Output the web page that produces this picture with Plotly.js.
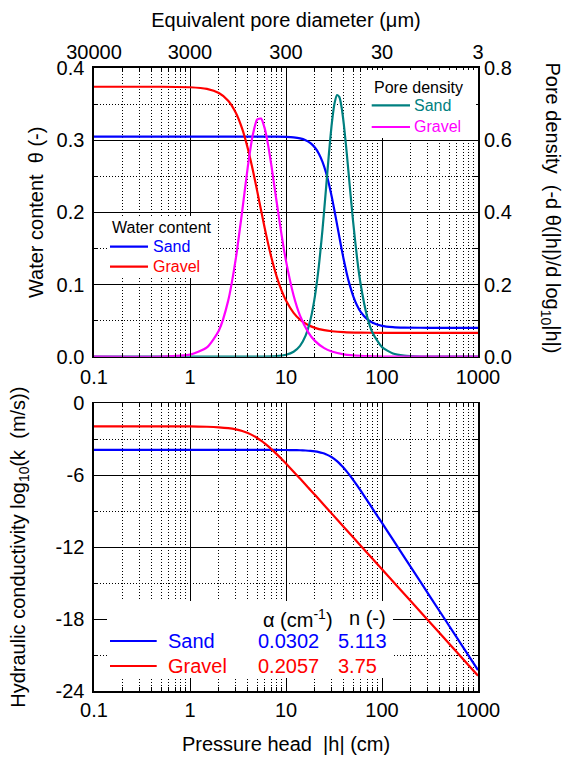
<!DOCTYPE html>
<html>
<head>
<meta charset="utf-8">
<script src="https://cdn.plot.ly/plotly-3.0.1.min.js"></script>
<style>html,body{margin:0;padding:0;background:#fff}#chart{width:563px;height:760px}</style>
</head>
<body>
<div id="chart"></div>
<script>
// ---- Data ----
const hSand = [0.1, 1, 5, 8, 10, 12, 14, 16, 18, 20, 22, 24, 26, 28, 30, 32, 34, 36, 38, 40, 43, 46, 50, 55, 60, 70, 80, 100, 130, 170, 250, 400, 1000];
const thetaSand = [0.3050, 0.3050, 0.3050, 0.3049, 0.3045, 0.3038, 0.3024, 0.2999, 0.2959, 0.2899, 0.2813, 0.2700, 0.2559, 0.2394, 0.2212, 0.2023, 0.1834, 0.1655, 0.1489, 0.1340, 0.1150, 0.0998, 0.0844, 0.0710, 0.0621, 0.0520, 0.0470, 0.0428, 0.0410, 0.0403, 0.0401, 0.0400, 0.0400];
const poreSand = [0, 0, 0.0002, 0.0018, 0.0055, 0.0138, 0.0301, 0.0583, 0.1028, 0.1670, 0.2514, 0.3521, 0.4600, 0.5625, 0.6461, 0.7015, 0.7251, 0.7193, 0.6899, 0.6446, 0.5624, 0.4772, 0.3746, 0.2734, 0.2000, 0.1111, 0.0654, 0.0265, 0.0090, 0.0030, 0.0006, 0.0000, 0.0000];
const logKSand = [-3.89, -3.89, -3.8904, -3.8926, -3.8967, -3.9044, -3.9174, -3.9381, -3.9688, -4.0124, -4.0716, -4.1489, -4.2459, -4.3636, -4.5008, -4.6562, -4.8268, -5.0095, -5.2007, -5.3971, -5.6967, -5.9954, -6.3877, -6.8545, -7.2919, -8.0911, -8.8100, -9.9782, -11.3753, -12.8054, -14.8624, -17.3695, -22.2572];

const hGravel = [0.1, 0.5, 1, 1.5, 2, 2.5, 3, 3.5, 4, 4.5, 5, 5.5, 6, 6.5, 7, 8, 9, 10, 12, 14, 17, 20, 25, 30, 40, 60, 100, 200, 400, 1000];
const thetaGravel = [0.3740, 0.3740, 0.3733, 0.3710, 0.3653, 0.3547, 0.3381, 0.3157, 0.2886, 0.2594, 0.2301, 0.2028, 0.1783, 0.1570, 0.1389, 0.1110, 0.0915, 0.0778, 0.0607, 0.0513, 0.0438, 0.0400, 0.0368, 0.0353, 0.0340, 0.0333, 0.0331, 0.0330, 0.0330, 0.0330];
const poreGravel = [0, 0.0004, 0.0057, 0.0257, 0.0727, 0.1554, 0.2717, 0.4041, 0.5260, 0.6135, 0.6570, 0.6598, 0.6326, 0.5877, 0.5346, 0.4280, 0.3370, 0.2656, 0.1698, 0.1140, 0.0680, 0.0438, 0.0238, 0.0145, 0.0066, 0.0022, 0.0005, 0.0001, 0, 0];
const logKGravel = [-1.92, -1.9217, -1.9317, -1.9565, -2.0025, -2.0754, -2.1794, -2.3162, -2.4838, -2.6774, -2.8903, -3.1144, -3.3435, -3.5758, -3.8034, -4.2409, -4.6498, -5.0288, -5.7012, -6.2832, -7.0316, -7.6361, -8.5020, -9.2040, -10.3131, -11.8756, -13.8443, -16.5161, -19.1877, -22.7194];

const seriesNames = ['Sand', 'Gravel'];
const paramAlpha = ['0.0302', '0.2057'];
const paramN = ['5.113', '3.75'];

const hTicks = [0.1, 1, 10, 100, 1000];
const hTickLabels = ['0.1', '1', '10', '100', '1000'];
const dTicks = [30000, 3000, 300, 30, 3];
const dTickLabels = ['30000', '3000', '300', '30', '3'];
const thetaTicks = [0, 0.1, 0.2, 0.3, 0.4];
const thetaTickLabels = ['0.0', '0.1', '0.2', '0.3', '0.4'];
const poreTicks = [0, 0.2, 0.4, 0.6, 0.8];
const poreTickLabels = ['0.0', '0.2', '0.4', '0.6', '0.8'];
const kTicks = [0, -6, -12, -18, -24];
const kTickLabels = ['0', '-6', '-12', '-18', '-24'];

// ---- Styles ----
const BLUE = '#0000ff', RED = '#ff0000', TEAL = '#008080', MAGENTA = '#ff00ff';
const FONT = 'Liberation Sans, Arial, sans-serif';

const minorH = [];
for (let d = 0.1; d < 1000; d *= 10) for (let k = 2; k <= 9; k++) minorH.push(+(k * d).toPrecision(3));

const gridDot = '1px,2px';
const axisBase = {
  showline: true, linecolor: '#000', linewidth: 1.6, mirror: 'ticks',
  ticks: 'inside', ticklen: 8, tickwidth: 1, tickcolor: '#000',
  showgrid: true, gridcolor: '#000', gridwidth: 1, zeroline: false,
  tickfont: {size: 20, color: '#000', family: FONT}
};
const logMinor = {tickvals: minorH, ticks: 'inside', ticklen: 4, tickcolor: '#000',
  showgrid: true, griddash: gridDot, gridcolor: '#000', gridwidth: 1};

const line = (c) => ({color: c, width: 2.2, shape: 'spline', smoothing: 0.6});

const traces = [
  {x: hSand, y: thetaSand, xaxis: 'x', yaxis: 'y', mode: 'lines', line: line(BLUE), name: 'Sand θ'},
  {x: hGravel, y: thetaGravel, xaxis: 'x', yaxis: 'y', mode: 'lines', line: line(RED), name: 'Gravel θ'},
  {x: hSand, y: poreSand, xaxis: 'x', yaxis: 'y2', mode: 'lines', line: line(TEAL), name: 'Sand pore density'},
  {x: hGravel, y: poreGravel, xaxis: 'x', yaxis: 'y2', mode: 'lines', line: line(MAGENTA), name: 'Gravel pore density'},
  {x: hSand, y: logKSand, xaxis: 'x2', yaxis: 'y3', mode: 'lines', line: line(BLUE), name: 'Sand K'},
  {x: hGravel, y: logKGravel, xaxis: 'x2', yaxis: 'y3', mode: 'lines', line: line(RED), name: 'Gravel K'},
  {x: dTicks, y: dTicks.map(() => null), xaxis: 'x3', yaxis: 'y', mode: 'lines', hoverinfo: 'skip', showlegend: false}
];

// paper coordinate helpers (plot area: x 94..478, y 68..691)
const px = (v) => (v - 94) / 384;
const py = (v) => (691 - v) / 623;

const shapes = [];
const annotations = [];
function box(x0, x1, y0, y1) {
  shapes.push({type: 'rect', xref: 'paper', yref: 'paper', x0: px(x0), x1: px(x1), y0: py(y0), y1: py(y1),
    fillcolor: '#fff', line: {width: 0}, layer: 'above'});
}
function swatch(x0, x1, y, c) {
  shapes.push({type: 'line', xref: 'paper', yref: 'paper', x0: px(x0), x1: px(x1), y0: py(y), y1: py(y),
    line: {color: c, width: 2.2}, layer: 'above'});
}
function label(text, x, y, c, size, anchor) {
  annotations.push({text: text, xref: 'paper', yref: 'paper', x: px(x), y: py(y), showarrow: false,
    xanchor: anchor || 'left', yanchor: 'middle', font: {size: size, color: c, family: FONT}, borderpad: 0});
}

// Water content legend
box(107, 218, 216, 278);
label('Water content', 162, 227, '#000', 16, 'center');
swatch(110, 148, 246.7, BLUE); label(seriesNames[0], 152, 246.5, BLUE, 16);
swatch(110, 148, 266.7, RED); label(seriesNames[1], 152, 266.5, RED, 16);

// Pore density legend
box(367, 476, 70, 138);
label('Pore density', 418.7, 87, '#000', 16, 'center');
swatch(371.7, 410, 105.3, TEAL); label(seriesNames[0], 413, 105.3, TEAL, 16);
swatch(371.7, 410, 127, MAGENTA); label(seriesNames[1], 413, 127, MAGENTA, 16);

// Parameter legend (bottom)
box(107, 393, 601, 678);
label('α (cm<sup>-1</sup>)', 262, 618.3, '#000', 20);
label('n (-)', 348, 618.3, '#000', 20);
swatch(110, 156.7, 641, BLUE);
label(seriesNames[0], 167, 641, BLUE, 20); label(paramAlpha[0], 257, 641, BLUE, 20); label(paramN[0], 337, 641, BLUE, 20);
swatch(110, 156.7, 666, RED);
label(seriesNames[1], 167, 666, RED, 20); label(paramAlpha[1], 257, 666, RED, 20); label(paramN[1], 337, 666, RED, 20);

// Right axis title (reads top to bottom)
annotations.push({text: 'Pore density\u00a0 (-d θ(|h|)/d log<sub>10</sub>|h|)', xref: 'paper', yref: 'paper',
  x: px(551), y: py(207.5), textangle: 90, showarrow: false, xanchor: 'center', yanchor: 'middle',
  font: {size: 20, color: '#000', family: FONT}});

const layout = {
  width: 563, height: 760,
  margin: {l: 94, r: 85, t: 68, b: 69, pad: 0},
  paper_bgcolor: '#fff', plot_bgcolor: '#fff',
  font: {family: FONT, size: 20, color: '#000'},
  showlegend: false,
  xaxis: Object.assign({}, axisBase, {type: 'log', range: [-1, 3], domain: [0, 1], anchor: 'y',
    tickmode: 'array', tickvals: hTicks, ticktext: hTickLabels, minor: logMinor, ticklabelstandoff: 2}),
  yaxis: Object.assign({}, axisBase, {domain: [0.5366, 1], anchor: 'x', range: [0, 0.4],
    tickmode: 'array', tickvals: thetaTicks, ticktext: thetaTickLabels, ticklabelstandoff: 4,
    minor: {tickvals: [0.05, 0.15, 0.25, 0.35], ticks: 'inside', ticklen: 4, tickcolor: '#000',
      showgrid: true, griddash: gridDot, gridcolor: '#000', gridwidth: 1},
    title: {text: 'Water content\u00a0 θ (-)', font: {size: 20, color: '#000'}, standoff: 7}}),
  yaxis2: {overlaying: 'y', side: 'right', anchor: 'x', range: [0, 0.8],
    tickmode: 'array', tickvals: poreTicks, ticktext: poreTickLabels, ticklabelstandoff: 5,
    ticks: 'inside', ticklen: 8, tickcolor: '#000', showgrid: false, showline: false, zeroline: false,
    tickfont: {size: 20, color: '#000', family: FONT}},
  xaxis3: {overlaying: 'x', side: 'top', anchor: 'y', type: 'log',
    range: [Math.log10(dTicks[0]), Math.log10(dTicks[dTicks.length - 1])],
    tickmode: 'array', tickvals: dTicks, ticktext: dTickLabels, ticks: '', ticklabelstandoff: 4,
    showgrid: false, showline: false, zeroline: false,
    tickfont: {size: 20, color: '#000', family: FONT},
    title: {text: 'Equivalent pore diameter (μm)', font: {size: 20, color: '#000'}, standoff: 8}},
  xaxis2: Object.assign({}, axisBase, {type: 'log', range: [-1, 3], domain: [0, 1], anchor: 'y3',
    tickmode: 'array', tickvals: hTicks, ticktext: hTickLabels, minor: logMinor,
    title: {text: 'Pressure head\u00a0 |h| (cm)', font: {size: 20, color: '#000'}, standoff: 17}}),
  yaxis3: Object.assign({}, axisBase, {domain: [0, 0.4618], anchor: 'x2', range: [-24, 0],
    tickmode: 'array', tickvals: kTicks, ticktext: kTickLabels, ticklabelstandoff: 4,
    minor: {tickvals: [-3, -9, -15, -21], ticks: 'inside', ticklen: 4, tickcolor: '#000',
      showgrid: true, griddash: gridDot, gridcolor: '#000', gridwidth: 1},
    title: {text: 'Hydraulic conductivity log<sub>10</sub>(k\u00a0 (m/s))', font: {size: 20, color: '#000'}, standoff: 24}}),
  shapes: shapes,
  annotations: annotations
};

Plotly.newPlot('chart', traces, layout, {staticPlot: true, displayModeBar: false});
</script>
</body>
</html>
